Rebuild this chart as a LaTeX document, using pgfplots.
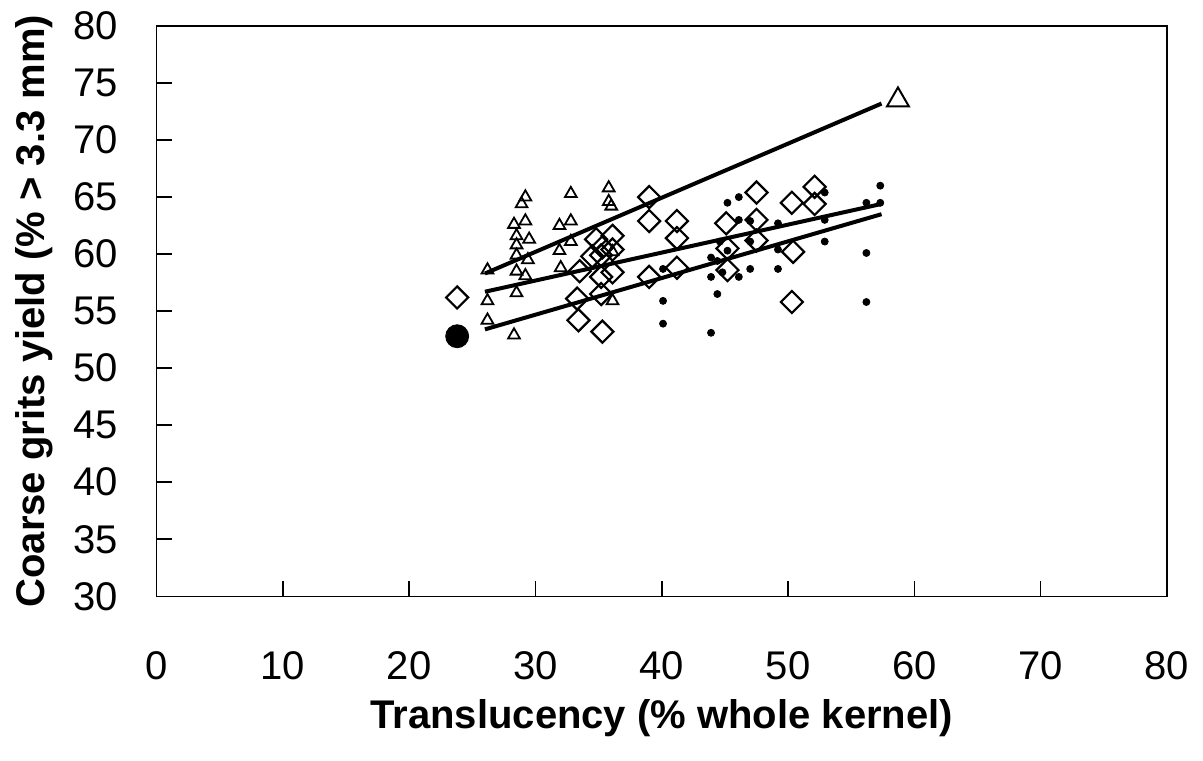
\documentclass[border=0pt]{standalone}
\usepackage{pgfplots}
\pgfplotsset{compat=1.18}
\usepackage{fontspec}
\setmainfont{Liberation Sans}

\begin{document}
\begin{tikzpicture}
\begin{axis}[
  scale only axis, width=505pt, height=285pt,
  xmin=0, xmax=80, ymin=30, ymax=80,
  xtick={0,10,...,80}, ytick={30,35,...,80},
  tick align=inside, tick pos=left,
  major tick length=7.5pt,
  axis line style={line width=0.75pt},
  every tick/.style={black, line width=0.75pt},
  /pgf/number format/assume math mode=true,
  tick label style={font=\fontsize{20}{24}\selectfont},
  xticklabel style={anchor=center, inner sep=0pt, yshift=-34.5pt},
  yticklabel style={anchor=east, inner sep=0pt, xshift=-19pt},
  xlabel={Translucency (\% whole kernel)},
  ylabel={Coarse grits yield (\% > 3.3 mm)},
  label style={font=\bfseries\fontsize{20}{24}\selectfont},
  xlabel style={at={(axis description cs:0.5,-0.214)}, anchor=center},
  ylabel style={at={(axis description cs:-0.1208,0.5)}, anchor=center},
  clip=false,
]
% small open triangles
\addplot[only marks, black, mark=triangle, mark size=3.4pt, line width=0.9pt] table {
x y
26.2 58.6
26.2 55.9
26.2 54.2
28.3 52.9
28.5 56.6
28.5 58.5
29.2 58.1
29.4 59.5
28.5 59.9
28.5 60.8
29.5 61.3
28.5 61.6
28.3 62.6
29.2 62.9
28.9 64.4
29.2 65.0
31.9 62.5
31.9 60.3
32.0 58.8
32.8 65.3
32.8 62.9
32.8 61.1
35.8 65.8
35.8 64.6
36.0 64.2
36.1 60.2
36.1 55.9
};
% open diamonds
\addplot[only marks, black, mark=square, mark size=3.9pt, line width=1.1pt, mark options={rotate=45}] table {
x y
23.8 56.2
33.3 56.1
33.4 54.2
35.3 53.2
33.5 58.5
34.5 59.8
35.2 59.9
34.8 61.3
35.3 60.6
36.1 61.6
36.1 60.4
36.1 58.4
35.2 58.0
35.2 56.5
39.0 65.0
39.0 62.9
41.2 62.9
41.2 61.4
41.2 58.8
39.0 58.0
45.1 62.7
45.2 60.5
45.2 58.6
47.5 65.4
47.5 63.0
47.5 61.2
50.3 64.5
50.4 60.2
50.3 55.8
52.1 65.9
52.1 64.4
};
% small filled dots
\addplot[only marks, black, mark=*, mark size=1.75pt] table {
x y
40.1 58.7
40.1 55.9
40.1 53.9
43.9 53.1
44.4 56.5
43.9 58.0
43.9 59.7
44.4 59.4
44.6 61.1
44.8 58.4
45.2 60.3
45.2 64.5
46.1 65.0
46.1 63.0
46.1 58.0
47.0 62.9
47.0 61.1
47.0 58.7
49.2 62.7
49.2 60.4
49.2 58.7
52.9 65.4
52.9 63.0
52.9 61.1
56.2 64.5
56.2 60.1
56.2 55.8
57.3 66.0
57.3 64.5
};
% large filled circle
\addplot[only marks, black, mark=*, mark size=5.75pt] coordinates {(23.8,52.8)};
% large open triangle
\addplot[only marks, black, mark=triangle, mark size=6.35pt, line width=1pt] coordinates {(58.7,73.5)};
% regression lines
\addplot[black, line width=2pt, no marks] coordinates {(26.0,58.3) (57.4,73.2)};
\addplot[black, line width=2pt, no marks] coordinates {(26.0,56.7) (57.4,64.4)};
\addplot[black, line width=2pt, no marks] coordinates {(26.0,53.4) (57.4,63.5)};
\end{axis}
\pgfresetboundingbox
\path[use as bounding box] (-78.25pt,-82pt) rectangle (523pt,298pt);
\end{tikzpicture}
\end{document}
